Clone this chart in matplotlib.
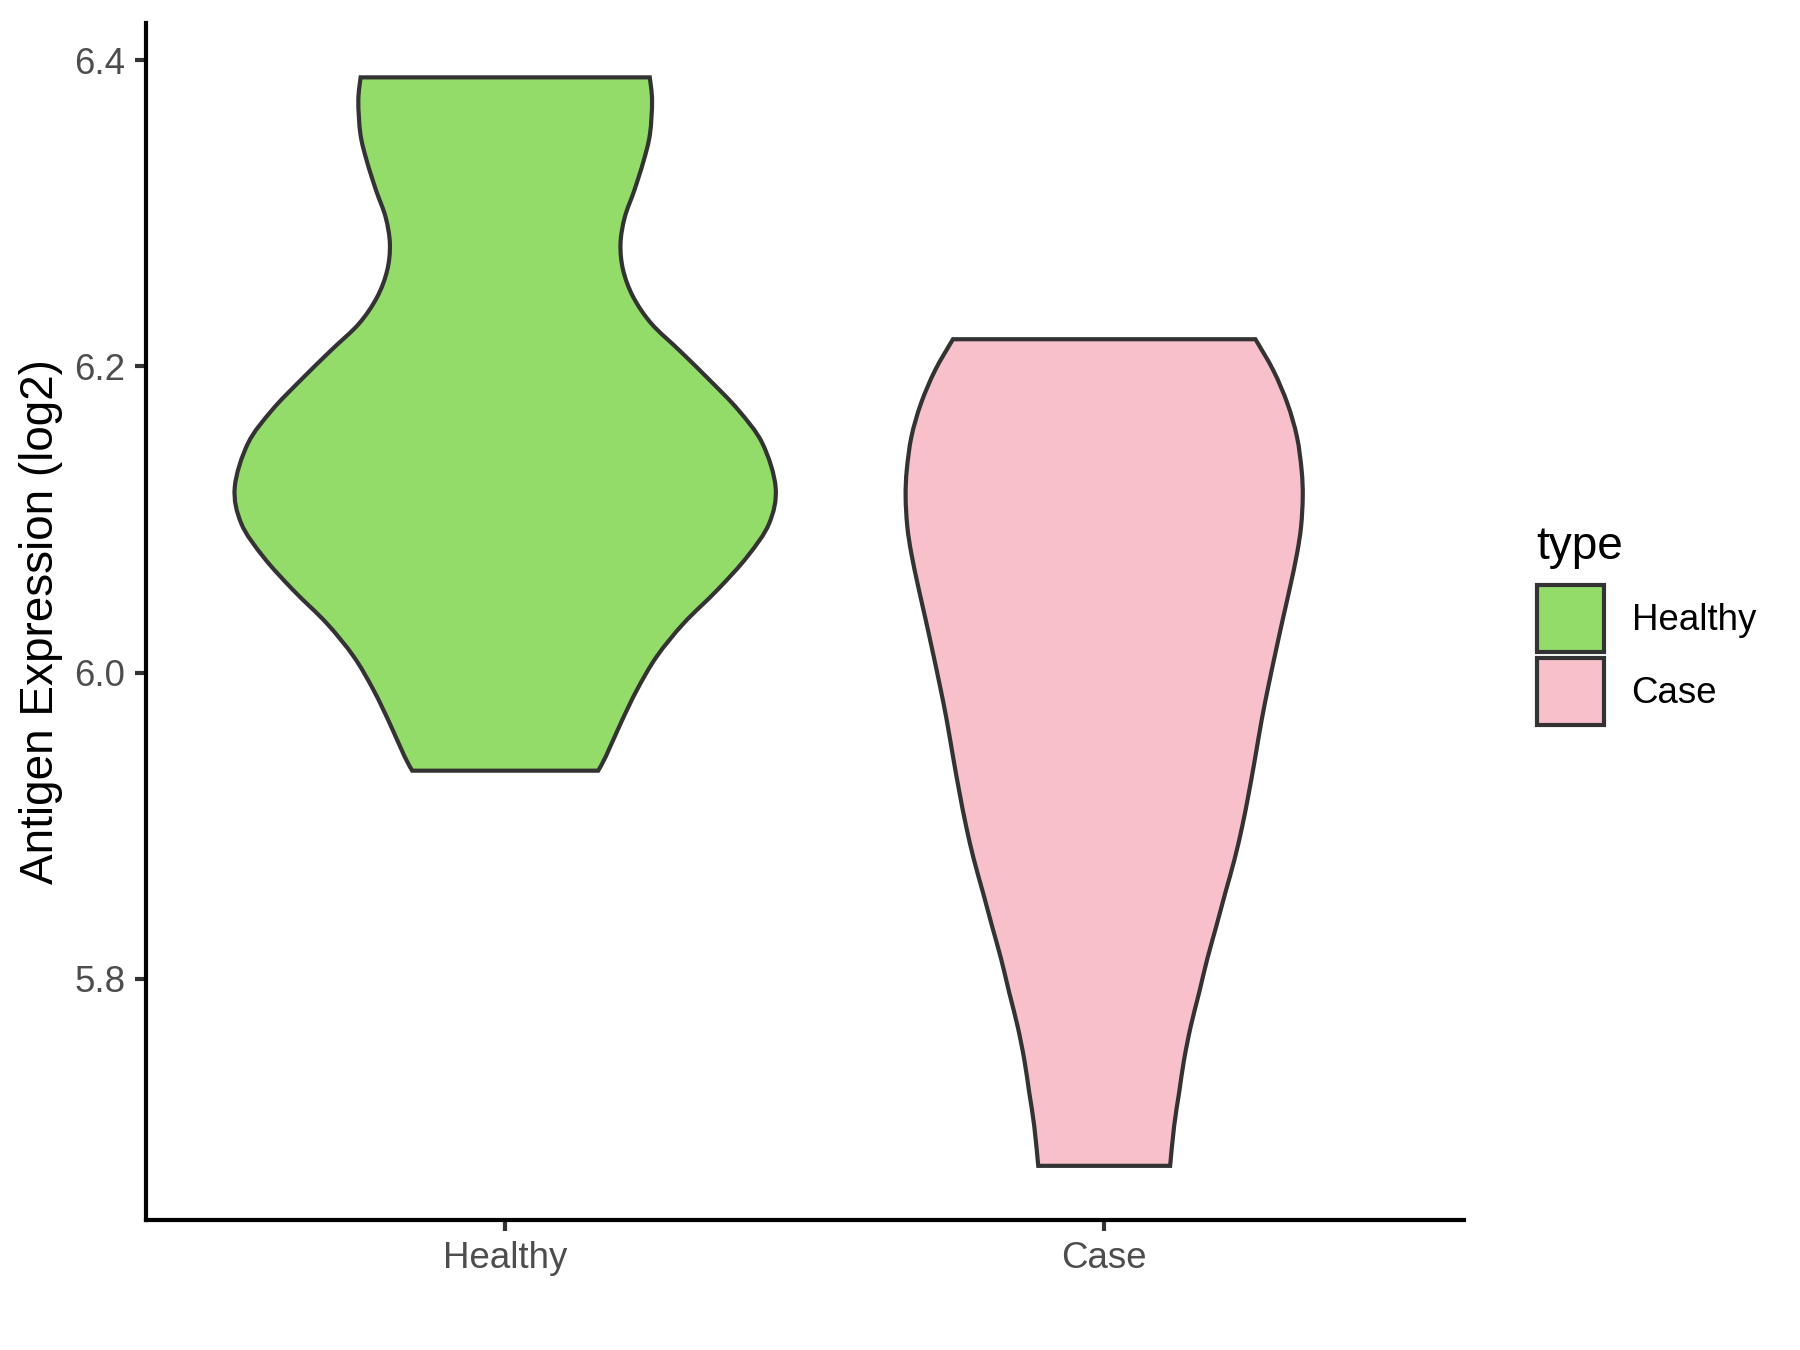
import numpy as np
import matplotlib
matplotlib.use('Agg')
import matplotlib.pyplot as plt
from matplotlib.patches import Patch, PathPatch
from matplotlib.path import Path

plt.rcParams['font.family'] = ['Liberation Sans', 'DejaVu Sans']

# groups shown on the x axis, in order
groups = ['Healthy', 'Case']
fill_colors = ['#93DC6A', '#F7C0CB']

# violin outlines: expression level and half width (in x units)
healthy_y = [6.3889, 6.3736, 6.3519, 6.3345, 6.3150, 6.2975, 6.2801, 6.2628,
             6.2453, 6.2279, 6.2106, 6.1910, 6.1714, 6.1497, 6.1210,
             6.0974, 6.0757, 6.0539, 6.0322, 6.0105, 5.9887, 5.9670, 5.9452,
             5.9359]
healthy_hw = [0.2414, 0.2452, 0.2417, 0.2312, 0.2155, 0.1996, 0.1925, 0.1970,
              0.2139, 0.2443, 0.2906, 0.3416, 0.3895, 0.4295, 0.4515,
              0.4406, 0.4040, 0.3540, 0.2980, 0.2530, 0.2200, 0.1930, 0.1680,
              0.1552]

case_y = [6.2178, 6.1975, 6.1758, 6.1541, 6.1323, 6.1149, 6.0954, 6.0779,
          6.0562, 6.0345, 6.0127, 5.9909, 5.9692, 5.9431, 5.9214, 5.8996,
          5.8778, 5.8561, 5.8343, 5.8126, 5.7908, 5.7690, 5.7473, 5.7255,
          5.7038, 5.6777]
case_hw = [0.2525, 0.2823, 0.3059, 0.3218, 0.3296, 0.3315, 0.3287, 0.3220,
           0.3105, 0.2980, 0.2858, 0.2740, 0.2630, 0.2515, 0.2415, 0.2305,
           0.2175, 0.2022, 0.1872, 0.1719, 0.1585, 0.1446, 0.1335, 0.1251,
           0.1168, 0.1101]

y_ticks = [5.8, 6.0, 6.2, 6.4]
y_tick_labels = ['5.8', '6.0', '6.2', '6.4']

profiles = [(healthy_y, healthy_hw), (case_y, case_hw)]


def smooth_side(pts):
    # cubic bezier segments (catmull-rom) through the outline points
    verts, codes = [], []
    n = len(pts)
    for i in range(n - 1):
        p0 = pts[max(i - 1, 0)]
        p1 = pts[i]
        p2 = pts[i + 1]
        p3 = pts[min(i + 2, n - 1)]
        c1 = p1 + (p2 - p0) / 6.0
        c2 = p2 - (p3 - p1) / 6.0
        verts += [c1, c2, p2]
        codes += [Path.CURVE4] * 3
    return verts, codes


def violin_path(center, ys, hw):
    ys = np.asarray(ys)
    hw = np.asarray(hw)
    left = np.column_stack([center - hw, ys])
    right = np.column_stack([center + hw, ys])[::-1]
    verts = [left[0]]
    codes = [Path.MOVETO]
    v, c = smooth_side(left)
    verts += v
    codes += c
    verts.append(right[0])
    codes.append(Path.LINETO)
    v, c = smooth_side(right)
    verts += v
    codes += c
    verts.append(left[0])
    codes.append(Path.CLOSEPOLY)
    return Path(np.array(verts), codes)


fig = plt.figure(figsize=(6, 4.5), dpi=300)
ax = fig.add_axes([0.0810, 0.0961, 0.7321, 0.8869])

for i, (ys, hw) in enumerate(profiles):
    patch = PathPatch(violin_path(i + 1, ys, hw), facecolor=fill_colors[i],
                      edgecolor='#333333', linewidth=1.0, joinstyle='miter')
    ax.add_patch(patch)

# ggplot style limits: discrete axis +0.6, continuous axis +5%
all_y = np.concatenate([healthy_y, case_y])
lo, hi = all_y.min(), all_y.max()
pad = 0.05 * (hi - lo)
ax.set_ylim(lo - pad, hi + pad)
ax.set_xlim(0.4, len(groups) + 0.6)

ax.set_xticks(range(1, len(groups) + 1))
ax.set_xticklabels(groups)
ax.set_yticks(y_ticks)
ax.set_yticklabels(y_tick_labels)

for side in ['top', 'right']:
    ax.spines[side].set_visible(False)
for side in ['left', 'bottom']:
    ax.spines[side].set_linewidth(1.0)
    ax.spines[side].set_color('black')

ax.tick_params(axis='both', direction='out', length=2.75, width=1.0,
               color='#333333', labelsize=8.8, labelcolor='#4D4D4D', pad=2.2)

ax.set_ylabel('Antigen Expression (log2)', fontsize=11, color='black',
              labelpad=2.75)

handles = [Patch(facecolor=c, edgecolor='#333333', linewidth=1.0, label=g)
           for g, c in zip(groups, fill_colors)]
leg = fig.legend(handles=handles, title='type', loc='upper left',
                 bbox_to_anchor=(0.8455, 0.622), frameon=False, fontsize=8.8,
                 title_fontsize=11, handlelength=1.85, handleheight=2.42,
                 labelspacing=0.18, handletextpad=0.74, borderpad=0.4,
                 borderaxespad=0, alignment='left')
leg._legend_box.sep = 3.9

fig.savefig('out.png', dpi=300)
